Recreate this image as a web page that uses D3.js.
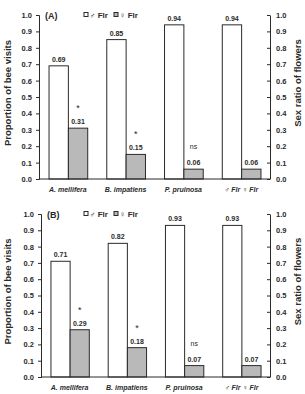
<!DOCTYPE html>
<html>
<head>
<meta charset="utf-8">
<script src="https://cdn.jsdelivr.net/npm/d3@7"></script>
<style>
  body { margin: 0; background: #fff; }
  svg { display: block; font-family: "Liberation Sans", Arial, "DejaVu Sans", sans-serif; }
</style>
</head>
<body>
<div id="chart"></div>
<script>
const categories = ["A. mellifera", "B. impatiens", "P. pruinosa", "♂ Flr ♀ Flr"];
const panelNames = ["(A)", "(B)"];
const maleA = [0.69, 0.85, 0.94, 0.94];
const femaleA = [0.31, 0.15, 0.06, 0.06];
const maleB = [0.71, 0.82, 0.93, 0.93];
const femaleB = [0.29, 0.18, 0.07, 0.07];
const signif = ["*", "*", "ns", ""];
const tickValues = [0, 0.1, 0.2, 0.3, 0.4, 0.5, 0.6, 0.7, 0.8, 0.9, 1.0];

const width = 305, height = 394;
const ink = "#2a2a2a";

const svg = d3.select("#chart").append("svg")
    .attr("width", width)
    .attr("height", height);

// one panel per figure part
const panels = [
  { name: panelNames[0], male: maleA, female: femaleA, top: 15, bottom: 179, left: 39 },
  { name: panelNames[1], male: maleB, female: femaleB, top: 214, bottom: 377, left: 41 }
];

panels.forEach(p => {
  const right = 270;
  const g = svg.append("g");

  const y = d3.scaleLinear().domain([0, 1]).range([p.bottom, p.top]);
  const x = d3.scaleBand().domain(categories)
      .range([p.left, right])
      .paddingInner(0.33)
      .paddingOuter(0.165);
  const sub = d3.scaleBand().domain(["m", "f"]).range([0, x.bandwidth()]);

  const rows = categories.map((c, i) => ({ c: c, m: p.male[i], f: p.female[i], s: signif[i] }));

  // bars
  const grp = g.selectAll(".grp").data(rows).enter().append("g")
      .attr("transform", d => `translate(${x(d.c)},0)`);

  grp.append("rect")
      .attr("x", sub("m") + 0.5)
      .attr("y", d => y(d.m))
      .attr("width", sub.bandwidth())
      .attr("height", d => y(0) - y(d.m))
      .attr("fill", "#fff")
      .attr("stroke", ink)
      .attr("stroke-width", 1);

  grp.append("rect")
      .attr("x", sub("f") + 0.5)
      .attr("y", d => y(d.f))
      .attr("width", sub.bandwidth())
      .attr("height", d => y(0) - y(d.f))
      .attr("fill", "#b9b9b9")
      .attr("stroke", ink)
      .attr("stroke-width", 1);

  grp.append("text")
      .attr("x", sub("m") + sub.bandwidth() / 2 + 0.5)
      .attr("y", d => y(d.m) - 4)
      .attr("text-anchor", "middle")
      .attr("font-size", 7)
      .attr("font-weight", "bold")
      .attr("fill", ink)
      .text(d => d.m.toFixed(2));

  grp.append("text")
      .attr("x", sub("f") + sub.bandwidth() / 2 + 0.5)
      .attr("y", d => y(d.f) - 4)
      .attr("text-anchor", "middle")
      .attr("font-size", 7)
      .attr("font-weight", "bold")
      .attr("fill", ink)
      .text(d => d.f.toFixed(2));

  grp.append("text")
      .attr("x", sub("f") + sub.bandwidth() / 2 + 0.5)
      .attr("y", d => y(d.f) - (d.s === "*" ? 17 : 20))
      .attr("text-anchor", "middle")
      .attr("font-size", d => d.s === "*" ? 9 : 7)
      .attr("fill", ink)
      .text(d => d.s);

  // left axis
  const yl = g.append("g")
      .attr("transform", `translate(${p.left},0)`)
      .call(d3.axisLeft(y).tickValues(tickValues).tickFormat(d3.format(".1f")).tickSize(3).tickPadding(4));
  // right axis, ticks pointing inward
  const yr = g.append("g")
      .attr("transform", `translate(${right},0)`)
      .call(d3.axisRight(y).tickValues(tickValues).tickFormat(d3.format(".1f")).tickSizeInner(-3).tickSizeOuter(0).tickPadding(6));
  [yl, yr].forEach(a => {
    a.select(".domain").attr("stroke", ink);
    a.selectAll(".tick line").attr("stroke", ink);
    a.selectAll(".tick text")
        .attr("font-size", 7.5)
        .attr("font-weight", "bold")
        .attr("font-family", "Liberation Sans, Arial, sans-serif")
        .attr("fill", ink);
  });

  // x axis baseline
  const xa = g.append("g")
      .attr("transform", `translate(0,${p.bottom})`)
      .call(d3.axisBottom(x).tickSize(0).tickPadding(8));
  xa.select(".domain").attr("stroke", ink).attr("d", `M${p.left},0H${right}`);
  xa.selectAll(".tick text")
      .attr("font-size", 7)
      .attr("font-weight", "bold")
      .attr("font-style", "italic")
      .attr("font-family", "Liberation Sans, Arial, sans-serif")
      .attr("fill", ink);

  // axis titles
  const mid = (p.top + p.bottom) / 2 - 4;
  g.append("text")
      .attr("transform", `translate(11,${mid}) rotate(-90)`)
      .attr("text-anchor", "middle")
      .attr("font-size", 9.5)
      .attr("font-weight", "bold")
      .attr("fill", ink)
      .text("Proportion of bee visits");
  g.append("text")
      .attr("transform", `translate(301,${mid - 10}) rotate(-90)`)
      .attr("text-anchor", "middle")
      .attr("font-size", 9.5)
      .attr("font-weight", "bold")
      .attr("fill", ink)
      .text("Sex ratio of flowers");

  // panel tag
  g.append("text")
      .attr("x", p.left + 6)
      .attr("y", p.top + 4)
      .attr("font-size", 9)
      .attr("font-weight", "bold")
      .attr("fill", ink)
      .text(p.name);

  // legend
  const lg = g.append("g").attr("transform", `translate(84,${p.top})`);
  lg.append("rect").attr("x", 0).attr("y", -2.5).attr("width", 4).attr("height", 4)
      .attr("fill", "#fff").attr("stroke", ink);
  lg.append("text").attr("x", 5.5).attr("y", 2.5).attr("font-size", 8).attr("font-weight", "bold").attr("fill", ink)
      .text("♂ Flr");
  lg.append("rect").attr("x", 30).attr("y", -2.5).attr("width", 4).attr("height", 4)
      .attr("fill", "#b9b9b9").attr("stroke", ink);
  lg.append("text").attr("x", 35.5).attr("y", 2.5).attr("font-size", 8).attr("font-weight", "bold").attr("fill", ink)
      .text("♀ Flr");
});
</script>
</body>
</html>
